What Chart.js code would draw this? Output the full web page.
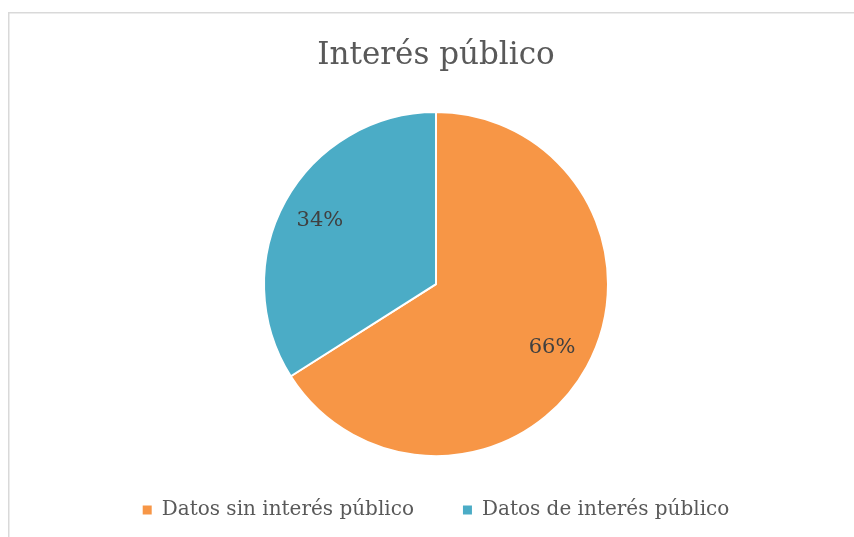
<!DOCTYPE html>
<html lang="es">
<head>
  <meta charset="UTF-8" />
  <title>Interés público</title>
  <script src="https://cdn.jsdelivr.net/npm/chart.js"></script>
  <style>
    html, body {
      margin: 0;
      padding: 0;
      background: #ffffff;
    }
    #wrap {
      width: 854px;
      height: 537px;
    }
  </style>
</head>
<body>
  <div id="wrap"><canvas id="myChart" width="854" height="537"></canvas></div>

  <script>
    const categories = ['Datos sin interés público', 'Datos de interés público'];
    const values = [66, 34];
    const sliceColors = ['#F79646', '#4BACC6'];

    const serif = "'DejaVu Serif', 'Liberation Serif', serif";

    // marco gris alrededor del gráfico
    const framePlugin = {
      id: 'frame',
      beforeDraw(chart) {
        const c = chart.ctx;
        c.save();
        c.strokeStyle = '#d9d9d9';
        c.lineWidth = 1.5;
        c.strokeRect(8.75, 12.75, 900, 600);
        c.restore();
      }
    };

    // porcentajes dentro de cada sector
    const pctLabels = {
      id: 'pctLabels',
      afterDatasetsDraw(chart) {
        const c = chart.ctx;
        const meta = chart.getDatasetMeta(0);
        const total = values.reduce((a, b) => a + b, 0);
        c.save();
        c.font = '21px ' + serif;
        c.fillStyle = '#404040';
        c.textAlign = 'center';
        c.textBaseline = 'middle';
        meta.data.forEach((arc, i) => {
          const p = arc.getProps(['x', 'y', 'startAngle', 'endAngle', 'outerRadius'], true);
          const mid = (p.startAngle + p.endAngle) / 2;
          const r = p.outerRadius * 0.77;
          const pct = Math.round(values[i] / total * 100) + '%';
          c.fillText(pct, p.x + Math.cos(mid) * r, p.y + Math.sin(mid) * r);
        });
        c.restore();
      }
    };

    new Chart(document.getElementById('myChart'), {
      type: 'pie',
      data: {
        labels: categories,
        datasets: [{
          data: values,
          backgroundColor: sliceColors,
          borderColor: '#ffffff',
          borderWidth: 2
        }]
      },
      options: {
        responsive: false,
        animation: false,
        radius: 172,
        layout: {
          padding: { left: 18, right: 0, top: 0, bottom: 7 }
        },
        plugins: {
          title: {
            display: true,
            text: 'Interés público',
            color: '#595959',
            font: { family: serif, size: 31, weight: 'normal' },
            padding: { top: 37, bottom: 43 }
          },
          legend: {
            position: 'bottom',
            labels: {
              color: '#595959',
              font: { family: serif, size: 20 },
              boxWidth: 9,
              boxHeight: 9,
              padding: 49,
              generateLabels(chart) {
                const items = Chart.overrides.pie.plugins.legend.labels.generateLabels(chart);
                items.forEach(it => {
                  it.lineWidth = 0;
                  it.strokeStyle = it.fillStyle;
                });
                return items;
              }
            }
          },
          tooltip: { enabled: false }
        }
      },
      plugins: [framePlugin, pctLabels]
    });
  </script>
</body>
</html>
